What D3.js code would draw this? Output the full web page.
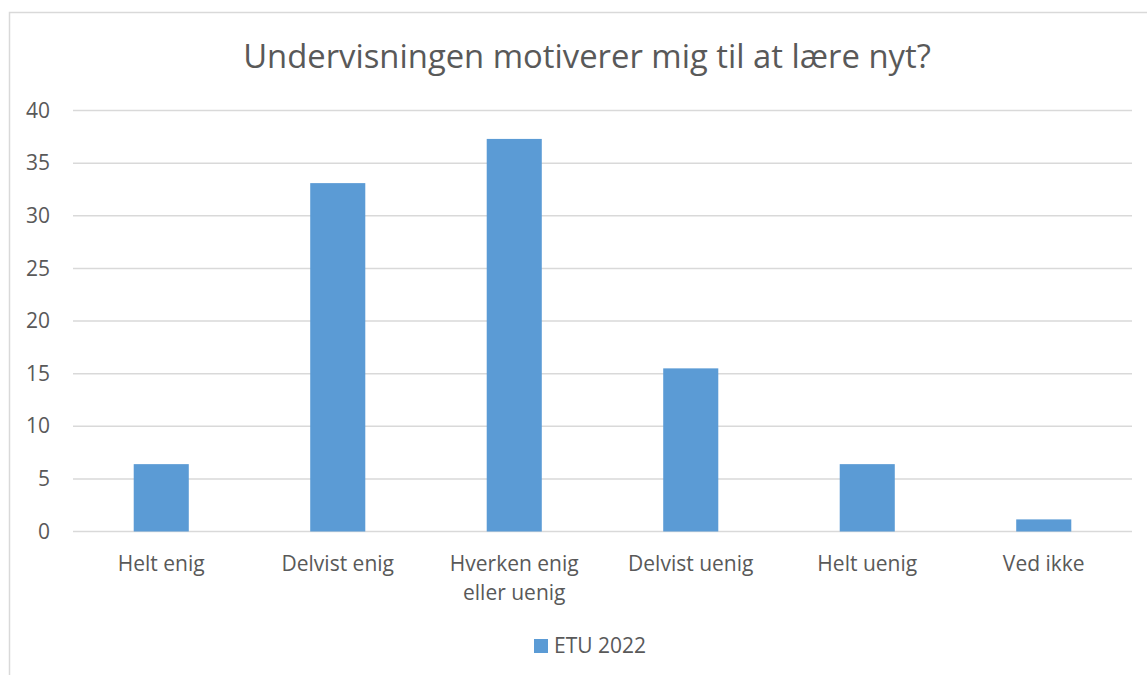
<!DOCTYPE html>
<html>
<head>
<meta charset="utf-8">
<script src="https://cdn.jsdelivr.net/npm/d3@7"></script>
<style>
  body { margin: 0; background: #fff; }
  svg { display: block; font-family: "Open Sans", sans-serif; }
</style>
</head>
<body>
<svg id="chart" width="1147" height="675"></svg>
<script>
const categories = [
  ["Helt enig"],
  ["Delvist enig"],
  ["Hverken enig", "eller uenig"],
  ["Delvist uenig"],
  ["Helt uenig"],
  ["Ved ikke"]
];
const values = [6.4, 33.1, 37.3, 15.5, 6.4, 1.15];
const yTicks = [0, 5, 10, 15, 20, 25, 30, 35, 40];
const seriesName = "ETU 2022";
const title = "Undervisningen motiverer mig til at lære nyt?";

const width = 1147;
const height = 675;
const margin = { top: 110.5, right: 15, bottom: 143.5, left: 73 };
const textColor = "#595959";
const barColor = "#5b9bd5";
const gridColor = "#d9d9d9";

const svg = d3.select("#chart");

// chart frame (only left and top edges are inside the picture)
svg.append("rect")
  .attr("x", 9.5)
  .attr("y", 12.5)
  .attr("width", 1200)
  .attr("height", 700)
  .attr("fill", "none")
  .attr("stroke", gridColor)
  .attr("stroke-width", 1.5);

const x = d3.scaleBand()
  .domain(d3.range(categories.length))
  .range([margin.left, width - margin.right])
  .paddingInner(0.688)
  .paddingOuter(0.344);

const y = d3.scaleLinear()
  .domain([0, 40])
  .range([height - margin.bottom, margin.top]);

// gridlines
svg.append("g")
  .selectAll("line")
  .data(yTicks)
  .join("line")
  .attr("x1", margin.left)
  .attr("x2", width - margin.right)
  .attr("y1", (d) => y(d))
  .attr("y2", (d) => y(d))
  .attr("stroke", gridColor)
  .attr("stroke-width", 1.5);

// y axis labels
const yAxis = svg.append("g")
  .attr("transform", `translate(${margin.left - 23},0)`)
  .call(d3.axisLeft(y).tickValues(yTicks).tickSize(0).tickPadding(0));
yAxis.select(".domain").remove();
yAxis.selectAll("text")
  .attr("fill", textColor)
  .style("font-size", "21px")
  .style("font-family", "'Open Sans', sans-serif");

// bars
svg.append("g")
  .selectAll("rect")
  .data(values)
  .join("rect")
  .attr("x", (d, i) => x(i))
  .attr("y", (d) => y(d))
  .attr("width", x.bandwidth())
  .attr("height", (d) => y(0) - y(d))
  .attr("fill", barColor);

// category labels
const xLabels = svg.append("g")
  .selectAll("text")
  .data(categories)
  .join("text")
  .attr("x", (d, i) => x(i) + x.bandwidth() / 2)
  .attr("y", y(0) + 39)
  .attr("text-anchor", "middle")
  .attr("fill", textColor)
  .style("font-size", "21px");
xLabels.selectAll("tspan")
  .data((d) => d)
  .join("tspan")
  .attr("x", function () { return d3.select(this.parentNode).attr("x"); })
  .attr("dy", (d, i) => (i === 0 ? 0 : 29))
  .text((d) => d);

// title
svg.append("text")
  .attr("x", 587)
  .attr("y", 68)
  .attr("text-anchor", "middle")
  .attr("fill", textColor)
  .style("font-size", "32.8px")
  .text(title);

// legend
const legend = svg.append("g").attr("transform", "translate(534,639)");
legend.append("rect")
  .attr("width", 14)
  .attr("height", 14)
  .attr("fill", barColor);
legend.append("text")
  .attr("x", 20)
  .attr("y", 14)
  .attr("fill", textColor)
  .style("font-size", "21px")
  .text(seriesName);
</script>
</body>
</html>
